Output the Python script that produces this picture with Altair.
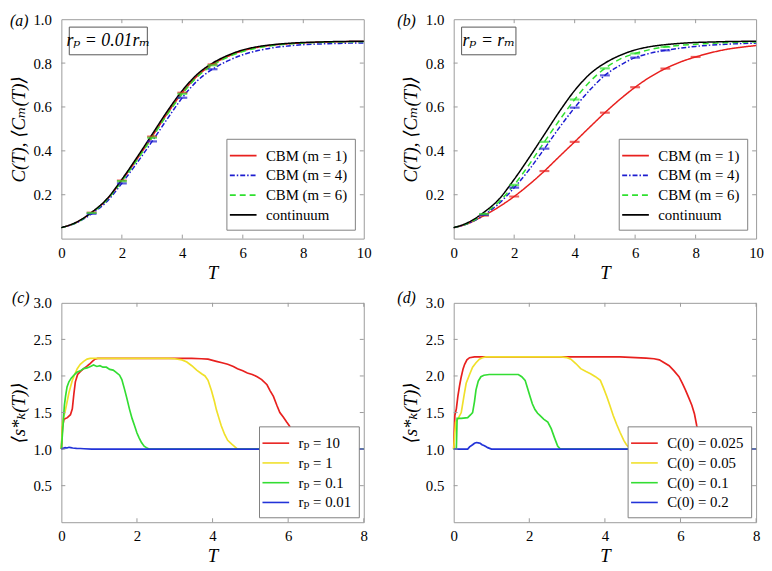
import altair as alt
import pandas as pd

# ---------------- data ----------------
T_ab = [0, 0.5, 1, 1.5, 2, 2.5, 3, 3.5, 4, 4.5, 5, 5.5, 6, 6.5, 7, 7.5, 8, 8.5, 9, 9.5, 10]

a_red = [0.05, 0.074, 0.118, 0.177, 0.265, 0.362, 0.465, 0.57, 0.665, 0.742, 0.794, 0.83, 0.856, 0.872, 0.882, 0.888, 0.892, 0.895, 0.897, 0.898, 0.899]
a_blue = [0.05, 0.072, 0.113, 0.168, 0.252, 0.345, 0.443, 0.545, 0.642, 0.72, 0.772, 0.81, 0.838, 0.857, 0.87, 0.878, 0.884, 0.887, 0.889, 0.891, 0.892]
a_green = [0.05, 0.073, 0.117, 0.175, 0.262, 0.358, 0.46, 0.565, 0.66, 0.738, 0.79, 0.827, 0.853, 0.87, 0.88, 0.887, 0.891, 0.894, 0.896, 0.897, 0.898]
continuum = [0.05, 0.075, 0.12, 0.18, 0.27, 0.37, 0.475, 0.58, 0.675, 0.75, 0.80, 0.835, 0.86, 0.875, 0.884, 0.89, 0.894, 0.896, 0.898, 0.899, 0.90]

b_red = [0.05, 0.07, 0.105, 0.145, 0.192, 0.247, 0.308, 0.375, 0.441, 0.508, 0.574, 0.635, 0.69, 0.737, 0.775, 0.805, 0.828, 0.847, 0.862, 0.872, 0.88]
b_blue = [0.05, 0.07, 0.108, 0.16, 0.232, 0.315, 0.41, 0.507, 0.597, 0.677, 0.744, 0.79, 0.825, 0.845, 0.858, 0.868, 0.876, 0.882, 0.886, 0.889, 0.891]
b_green = [0.05, 0.071, 0.112, 0.168, 0.245, 0.338, 0.441, 0.54, 0.634, 0.715, 0.776, 0.818, 0.844, 0.862, 0.874, 0.881, 0.886, 0.89, 0.893, 0.895, 0.896]

cbm_names = ["CBM (m = 1)", "CBM (m = 4)", "CBM (m = 6)", "continuum"]
a_marker_T = [1, 2, 3, 4, 5]
b_marker_T = {"CBM (m = 1)": [1, 2, 3, 4, 5, 6, 7, 8],
              "CBM (m = 4)": [1, 2, 3, 4, 5, 6, 7],
              "CBM (m = 6)": [1, 2, 3, 4, 5, 6, 7]}

# panel (c)
c_red_T = [0, 0.03, 0.07, 0.16, 0.24, 0.29, 0.33, 0.37, 0.43, 0.5, 0.59, 0.67, 0.74, 0.82, 0.89, 0.96, 1.02, 3.45, 3.7, 3.88, 4.1, 4.25, 4.4, 4.55, 4.66, 4.8, 4.92, 5.05, 5.18, 5.3, 5.44, 5.52, 5.61, 5.7, 5.78, 5.87, 5.96, 6.03, 6.09, 6.2, 6.35, 6.5, 6.6, 8]
c_red_v = [1.0, 1.3, 1.41, 1.43, 1.47, 1.55, 1.75, 1.92, 2.02, 2.06, 2.1, 2.13, 2.16, 2.2, 2.23, 2.24, 2.24, 2.24, 2.235, 2.23, 2.2, 2.18, 2.16, 2.13, 2.1, 2.07, 2.04, 2.02, 1.99, 1.95, 1.88, 1.8, 1.72, 1.6, 1.5, 1.44, 1.37, 1.32, 1.26, 1.18, 1.1, 1.03, 1.0, 1.0]
c_yel_T = [0, 0.03, 0.11, 0.2, 0.29, 0.36, 0.42, 0.5, 0.59, 0.68, 0.76, 2.84, 3.0, 3.19, 3.32, 3.45, 3.58, 3.71, 3.8, 3.88, 3.97, 4.05, 4.1, 4.17, 4.23, 4.32, 4.4, 4.5, 4.57, 4.66, 8]
c_yel_v = [1.0, 1.37, 1.54, 1.77, 1.94, 2.03, 2.1, 2.16, 2.2, 2.23, 2.24, 2.24, 2.235, 2.22, 2.19, 2.14, 2.08, 2.03, 2.0, 1.94, 1.8, 1.65, 1.54, 1.42, 1.32, 1.2, 1.12, 1.07, 1.04, 1.0, 1.0]
c_grn_T = [0, 0.05, 0.08, 0.11, 0.15, 0.2, 0.26, 0.33, 0.41, 0.5, 0.59, 0.68, 0.77, 0.85, 0.94, 1.02, 1.1, 1.19, 1.28, 1.37, 1.45, 1.54, 1.6, 1.67, 1.73, 1.8, 1.87, 1.93, 2.0, 2.06, 2.12, 2.19, 2.25, 2.32, 8]
c_grn_v = [1.0, 1.37, 1.6, 1.72, 1.85, 1.92, 1.97, 2.01, 2.05, 2.07, 2.1, 2.11, 2.13, 2.15, 2.13, 2.14, 2.12, 2.12, 2.09, 2.08, 2.05, 2.01, 1.95, 1.82, 1.7, 1.55, 1.42, 1.33, 1.22, 1.15, 1.09, 1.04, 1.02, 1.0, 1.0]
c_blu_T = [0, 0.05, 0.1, 0.15, 0.2, 0.25, 0.3, 0.4, 0.5, 0.6, 0.8, 1.0, 8]
c_blu_v = [1.0, 1.01, 1.02, 1.015, 1.025, 1.02, 1.015, 1.01, 1.008, 1.005, 1.0, 1.0, 1.0]
c_names = ["rₚ = 10", "rₚ = 1", "rₚ = 0.1", "rₚ = 0.01"]

# panel (d)
d_red_T = [0, 0.03, 0.07, 0.11, 0.16, 0.2, 0.25, 0.29, 0.35, 0.42, 0.55, 4.4, 5.09, 5.3, 5.44, 5.57, 5.7, 5.83, 5.96, 6.05, 6.13, 6.22, 6.3, 6.37, 6.43, 6.52, 6.6, 6.68, 6.75, 8]
d_red_v = [1.0, 1.46, 1.55, 1.72, 1.88, 1.99, 2.1, 2.16, 2.22, 2.25, 2.26, 2.26, 2.245, 2.235, 2.22, 2.18, 2.14, 2.07, 1.99, 1.9, 1.81, 1.7, 1.6, 1.48, 1.32, 1.19, 1.1, 1.03, 1.0, 1.0]
d_yel_T = [0, 0.05, 0.12, 0.2, 0.27, 0.33, 0.42, 0.5, 0.59, 0.68, 0.76, 0.85, 2.84, 3.0, 3.1, 3.23, 3.36, 3.5, 3.62, 3.75, 3.88, 3.96, 4.05, 4.13, 4.22, 4.31, 4.4, 4.5, 4.57, 4.68, 8]
d_yel_v = [1.0, 1.37, 1.42, 1.5, 1.72, 1.9, 2.02, 2.12, 2.18, 2.23, 2.25, 2.26, 2.26, 2.25, 2.23, 2.17, 2.1, 2.06, 2.03, 1.99, 1.94, 1.84, 1.72, 1.6, 1.46, 1.34, 1.23, 1.12, 1.06, 1.0, 1.0]
d_grn_T = [0, 0.07, 0.08, 0.09, 0.2, 0.37, 0.45, 0.5, 0.55, 0.59, 0.65, 0.72, 0.8, 0.94, 1.71, 1.8, 1.89, 1.95, 2.02, 2.08, 2.15, 2.22, 2.28, 2.38, 2.49, 2.58, 2.67, 2.75, 2.82, 8]
d_grn_v = [1.0, 1.0, 1.2, 1.42, 1.42, 1.43, 1.47, 1.5, 1.65, 1.81, 1.93, 1.99, 2.01, 2.02, 2.02, 1.99, 1.94, 1.84, 1.72, 1.62, 1.54, 1.49, 1.46, 1.41, 1.37, 1.28, 1.15, 1.04, 1.0, 1.0]
d_blu_T = [0, 0.37, 0.42, 0.5, 0.55, 0.6, 0.65, 0.7, 0.75, 0.8, 0.85, 0.9, 0.95, 1.0, 8]
d_blu_v = [1.0, 1.0, 1.03, 1.06, 1.08, 1.09, 1.085, 1.08, 1.06, 1.05, 1.035, 1.02, 1.01, 1.0, 1.0]
d_names = ["C(0) = 0.025", "C(0) = 0.05", "C(0) = 0.1", "C(0) = 0.2"]

ab_x_ticks = [0, 2, 4, 6, 8, 10]
ab_y_ticks = [0.2, 0.4, 0.6, 0.8, 1.0]
cd_x_ticks = [0, 2, 4, 6, 8]
cd_y_ticks = [0.5, 1.0, 1.5, 2.0, 2.5, 3.0]

# ---------------- style ----------------
W, H = 306, 222
FONT = "Liberation Serif, DejaVu Serif, serif"
FRAME = "#9a9a9a"
ab_colors = ["#e8201e", "#1c1cd0", "#2fe02f", "#000000"]
ab_dash = [[1, 0], [5, 2, 1.5, 2], [6, 4], [1, 0]]
cd_colors = ["#e8201e", "#f0e02a", "#33dd33", "#2233d8"]


def legend(offset):
    return alt.Legend(title=None, orient="bottom-right", offset=offset, fillColor="white",
                      strokeColor="#808080", padding=7, labelFont=FONT, labelFontSize=15,
                      labelColor="black", symbolType="M-1.5,0H1.5", symbolSize=324,
                      symbolStrokeWidth=1.6, symbolFillColor="transparent", rowPadding=2,
                      labelLimit=300, labelOffset=13)


class Axes:
    def __init__(self, xdom, ydom, xt, yt, ytitle):
        self.xs = alt.Scale(domain=xdom, nice=False, zero=False)
        self.ys = alt.Scale(domain=ydom, nice=False, zero=False)
        self.xt, self.yt, self.ytitle = xt, yt, ytitle

    def X(self, field):
        return alt.X(field, type="quantitative", scale=self.xs, title="T",
                     axis=alt.Axis(values=self.xt, format="d"))

    def Y(self, field):
        return alt.Y(field, type="quantitative", scale=self.ys, title=self.ytitle,
                     axis=alt.Axis(values=self.yt, format=".1f"))


def frame_ticks(ax, xt, yt):
    xdf = pd.DataFrame({"T": xt})
    ydf = pd.DataFrame({"v": yt})
    bx = alt.Chart(xdf).mark_rule(color=FRAME).encode(
        x=ax.X("T"), y=alt.value(H), y2=alt.value(H - 4))
    tx = alt.Chart(xdf).mark_rule(color=FRAME).encode(
        x=ax.X("T"), y=alt.value(0), y2=alt.value(4))
    ly = alt.Chart(ydf).mark_rule(color=FRAME).encode(
        y=ax.Y("v"), x=alt.value(0), x2=alt.value(4))
    ry = alt.Chart(ydf).mark_rule(color=FRAME).encode(
        y=ax.Y("v"), x=alt.value(W - 4), x2=alt.value(W))
    return [bx, tx, ly, ry]


def label(text, dx, dy):
    return alt.Chart(pd.DataFrame({"t": [text]})).mark_text(
        font=FONT, fontSize=16, fontStyle="italic", align="left", baseline="middle",
        color="black").encode(text="t:N", x=alt.value(dx), y=alt.value(dy))


def panel_ab(letter, series, marker_T, box_text, box_w):
    rows = []
    for name, vals in zip(cbm_names, series):
        for t, v in zip(T_ab, vals):
            rows.append({"T": t, "v": v, "s": name})
    df = pd.DataFrame(rows)
    ax = Axes([0, 10], [0, 1], ab_x_ticks, ab_y_ticks, "C(T),  ⟨Cₘ(T)⟩")
    lines = alt.Chart(df).mark_line(strokeWidth=1.5, interpolate="monotone").encode(
        x=ax.X("T"), y=ax.Y("v"),
        color=alt.Color("s:N", scale=alt.Scale(domain=cbm_names, range=ab_colors), legend=legend(9)),
        strokeDash=alt.StrokeDash("s:N", scale=alt.Scale(domain=cbm_names, range=ab_dash), legend=legend(9)),
    )
    layers = [lines]
    for name, col in zip(cbm_names[:3], ab_colors[:3]):
        mt = marker_T[name] if isinstance(marker_T, dict) else marker_T
        mdf = df[(df["s"] == name) & (df["T"].isin(mt))]
        layers.append(alt.Chart(mdf).mark_tick(orient="horizontal", size=10, thickness=2.2, color=col).encode(
            x=ax.X("T"), y=ax.Y("v")))
    layers += frame_ticks(ax, ab_x_ticks[1:-1], ab_y_ticks[:-1])
    box = alt.Chart(pd.DataFrame({"t": [box_text]})).mark_rect(
        fill="white", stroke="#555555", strokeWidth=1).encode(
        x=alt.value(8), x2=alt.value(8 + box_w), y=alt.value(8), y2=alt.value(36))
    btxt = alt.Chart(pd.DataFrame({"t": [box_text]})).mark_text(
        font=FONT, fontSize=18, fontStyle="italic", align="center", baseline="middle",
        color="black").encode(text="t:N", x=alt.value(8 + box_w / 2), y=alt.value(22))
    layers += [box, btxt, label(letter, -52 if letter == "(a)" else -57, 2)]
    return alt.layer(*layers).properties(width=W, height=H)


def panel_cd(letter, names, Ts, Vs):
    rows = []
    for name, ts, vs in zip(names, Ts, Vs):
        for t, v in zip(ts, vs):
            rows.append({"T": t, "v": v, "s": name})
    df = pd.DataFrame(rows)
    ax = Axes([0, 8], [0, 3], cd_x_ticks, cd_y_ticks, "⟨s*ₖ(T)⟩")
    lines = alt.Chart(df).mark_line(strokeWidth=1.7).encode(
        x=ax.X("T"), y=ax.Y("v"),
        color=alt.Color("s:N", scale=alt.Scale(domain=names, range=cd_colors), legend=legend(5)),
    )
    layers = [lines] + frame_ticks(ax, cd_x_ticks[1:], cd_y_ticks[:-1])
    layers.append(label(letter, -50 if letter == "(c)" else -57, -5))
    return alt.layer(*layers).properties(width=W, height=H)


pa = panel_ab("(a)", [a_red, a_blue, a_green, continuum], a_marker_T, "rₚ = 0.01rₘ", 79)
pb = panel_ab("(b)", [b_red, b_blue, b_green, continuum], b_marker_T, "rₚ = rₘ", 55)
pc = panel_cd("(c)", c_names, [c_red_T, c_yel_T, c_grn_T, c_blu_T], [c_red_v, c_yel_v, c_grn_v, c_blu_v])
pd_ = panel_cd("(d)", d_names, [d_red_T, d_yel_T, d_grn_T, d_blu_T], [d_red_v, d_yel_v, d_grn_v, d_blu_v])

chart = alt.concat(pa, pb, pc, pd_, columns=2, spacing={"row": 65, "column": 91}, bounds="flush").resolve_scale(
    x="independent", y="independent", color="independent", strokeDash="independent"
).resolve_legend(color="independent", strokeDash="independent").properties(
    padding={"left": 0, "top": 0, "right": 0, "bottom": 0}
).configure_view(stroke=FRAME, strokeWidth=1).configure_axis(
    grid=False, domain=False, ticks=False, labelFont=FONT, labelFontSize=15, labelColor="black",
    labelPadding=10, labelFlush=False, titleFont=FONT, titleFontSize=19, titleFontStyle="italic",
    titleFontWeight="normal", titleColor="black", titlePadding=5
).configure_axisX(labelPadding=7, titlePadding=3)

chart.save("out.html", embed_options={"renderer": "svg", "actions": False})
